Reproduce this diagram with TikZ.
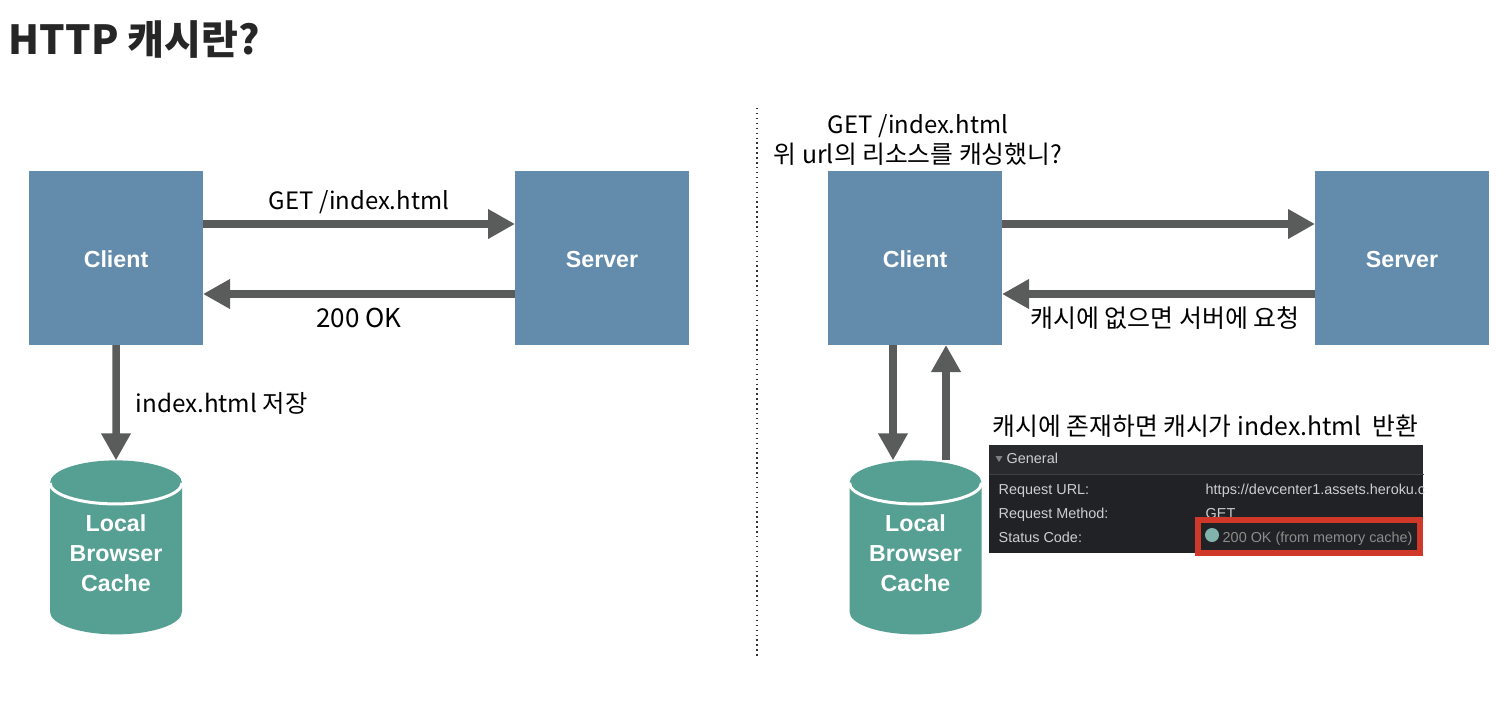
\documentclass[tikz,border=0pt]{standalone}
\usepackage{fontspec}
\usepackage{tikz}
\usepackage{xcolor}
\setmainfont{Noto Sans CJK KR}
\setsansfont{Liberation Sans}
\usetikzlibrary{shapes.geometric, arrows.meta, positioning, calc}
\definecolor{blockcolor}{RGB}{99,139,172}
\definecolor{cachecolor}{RGB}{86,160,147}
\definecolor{arrowcolor}{RGB}{90,91,91}
\definecolor{panelcolor}{RGB}{33,34,37}
\definecolor{headcolor}{RGB}{41,42,45}
\definecolor{panelline}{RGB}{64,65,68}
\definecolor{paneltext}{RGB}{205,206,207}
\definecolor{redcolor}{RGB}{208,57,42}
\definecolor{dotcolor}{RGB}{127,179,172}
\tikzstyle{block} = [rectangle, fill=blockcolor, text=white, minimum width=1.74cm, minimum height=1.74cm, inner sep=0pt, outer sep=0pt, text height=0.19cm, text depth=0pt, font=\sffamily\bfseries\fontsize{6.6}{8}\selectfont]
\tikzstyle{cache} = [cylinder, shape border rotate=90, aspect=0.47, fill=cachecolor, minimum width=1.32cm, minimum height=1.74cm, inner sep=0pt, outer sep=0pt, text width=0.96cm, text height=0.7cm, text depth=0pt]
\tikzstyle{cachetext} = [text=white, inner sep=0pt, align=center, font=\sffamily\bfseries\fontsize{6.6}{8.55}\selectfont]
\tikzstyle{arrow} = [-{Triangle[length=0.27cm, width=0.28cm]}, line width=0.075cm, color=arrowcolor]
\tikzstyle{label} = [font=\fontsize{6.8}{8}\selectfont, inner sep=0pt]
\tikzstyle{krlabel} = [font=\fontsize{7.1}{8}\selectfont, inner sep=0pt]
\tikzstyle{paneltxt} = [font=\sffamily\fontsize{4.1}{5}\selectfont, text=paneltext, anchor=base west, inner sep=0pt]

\begin{document}
\begin{tikzpicture}
    \useasboundingbox (0, 0) rectangle (15.08, 7.12);
    % Title
    \node[font=\bfseries\fontsize{11.4}{13}\selectfont, text=black!85, anchor=west, inner sep=0pt] (title) at (0.08, 6.72) {HTTP 캐시란?};

    % Separator
    \coordinate (septop) at (7.57, 6.04);
    \coordinate (sepbot) at (7.57, 0.55);
    \draw[densely dotted, line width=0.4pt, color=black!80] (septop) -- (sepbot);

    % Without cache
    \node[block] (client1) at (1.16, 4.54) {Client};
    \node[block] (server1) at (6.02, 4.54) {Server};
    \node[cache] (cache1) at (1.16, 1.53) {};
    \draw[white, line width=0.03cm] (cache1.before top) arc [x radius=0.66, y radius=0.21, start angle=180, delta angle=180];
    \node[cachetext] (cachetext1) at (1.16, 1.59) {Local\\Browser\\Cache};
    \draw[arrow] ([yshift=0.34cm]client1.east) -- ([yshift=0.34cm]server1.west);
    \draw[arrow] ([yshift=-0.36cm]server1.west) -- ([yshift=-0.36cm]client1.east);
    \draw[arrow] (client1.south) -- (cache1.north);
    \node[label] (get1) at (3.59, 5.10) {GET /index.html};
    \node[label, font=\fontsize{7.4}{8}\selectfont] (ok1) at (3.59, 3.94) {200 OK};
    \node[krlabel, anchor=west, font=\fontsize{6.9}{8}\selectfont] (save1) at (1.35, 3.09) {index.html 저장};

    % With cache
    \node[block] (client2) at (9.15, 4.54) {Client};
    \node[block] (server2) at (14.02, 4.54) {Server};
    \node[cache] (cache2) at (9.155, 1.53) {};
    \draw[white, line width=0.03cm] (cache2.before top) arc [x radius=0.66, y radius=0.21, start angle=180, delta angle=180];
    \node[cachetext] (cachetext2) at (9.155, 1.59) {Local\\Browser\\Cache};
    \draw[arrow] ([yshift=0.34cm]client2.east) -- ([yshift=0.34cm]server2.west);
    \draw[arrow] ([yshift=-0.36cm]server2.west) -- ([yshift=-0.36cm]client2.east);
    \draw[arrow] ([xshift=-0.22cm]client2.south) -- ([xshift=-0.22cm]client2.south |- cache2.north);
    \draw[arrow] ([xshift=0.31cm]client2.south |- cache2.north) -- ([xshift=0.31cm]client2.south);
    \node[krlabel, align=center, font=\fontsize{7.05}{8}\selectfont] (ask2) at (9.18, 5.72) {{\fontsize{6.8}{8}\selectfont GET /index.html}\\[0.3pt]위 url의 리소스를 캐싱했니?};
    \node[krlabel] (miss2) at (11.65, 3.94) {캐시에 없으면 서버에 요청};
    \node[krlabel, anchor=west, font=\fontsize{7.05}{8}\selectfont] (hit2) at (9.92, 2.86) {캐시에 존재하면 캐시가 index.html\ \ 반환};

    % Devtools panel
    \node[rectangle, fill=panelcolor, minimum width=4.34cm, minimum height=1.08cm, inner sep=0pt, anchor=north west] (panel) at (9.885, 2.68) {};
    \node[rectangle, fill=headcolor, minimum width=4.34cm, minimum height=0.29cm, inner sep=0pt, anchor=north] (head) at (panel.north) {};
    \draw[panelline, line width=0.3pt] (head.south west) -- (head.south east);
    \node[isosceles triangle, shape border rotate=-90, isosceles triangle stretches, fill=gray, minimum width=0.07cm, minimum height=0.06cm, inner sep=0pt] (fold) at (9.99, 2.54) {};
    \node[paneltxt] (general) at (10.06, 2.49) {General};
    \node[paneltxt] (urlkey) at (9.98, 2.18) {Request URL:};
    \node[paneltxt] (methodkey) at (9.98, 1.94) {Request Method:};
    \node[paneltxt] (statuskey) at (9.98, 1.70) {Status Code:};
    \node[paneltxt] (urlval) at (12.05, 2.18) {https://devcenter1.assets.heroku.c};
    \node[paneltxt] (methodval) at (12.05, 1.94) {GET};
    \node[circle, fill=dotcolor, minimum size=0.14cm, inner sep=0pt] (statusdot) at (12.12, 1.77) {};
    \node[paneltxt, text=gray!90] (statusval) at (12.22, 1.70) {200 OK (from memory cache)};
    \node[rectangle, draw=redcolor, line width=0.06cm, minimum width=2.22cm, minimum height=0.33cm, inner sep=0pt] (redbox) at (13.09, 1.755) {};
\end{tikzpicture}
\end{document}
